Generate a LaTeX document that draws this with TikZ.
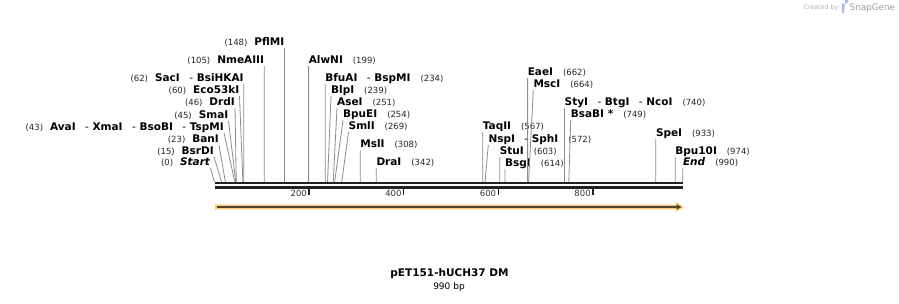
\documentclass[tikz,border=0pt]{standalone}
\usepackage{fontspec}
\setmainfont{DejaVu Sans}
\usetikzlibrary{arrows.meta}
\newcommand{\sitenum}[1]{{\fontsize{8.5}{9.5}\selectfont\mdseries\color{black!85}(#1)}}
\newcommand{\alsocut}{\hspace{9.5pt}{\mdseries -} }
\definecolor{featfill}{RGB}{250,202,110}
\definecolor{featline}{RGB}{80,68,52}

\begin{document}
\begin{tikzpicture}[x=1pt, y=-1pt,
                    my leader/.style={draw=black!45, line width=0.8pt},
                    my label/.style={inner sep=0pt, text height=7.5pt, text depth=2.5pt,
                      font=\fontsize{10.5}{12}\selectfont\bfseries},
                    my strand/.style={draw=black!87, line width=2.7pt},
                    my tick/.style={draw=black!87, line width=1.5pt},
                    my ticklabel/.style={anchor=east, inner sep=0pt,
                      font=\fontsize{8.5}{10}\selectfont, text=black!80}]

\path[use as bounding box, fill=white] (0,0) rectangle (899,303);

% the two strands and the ruler
\draw[my strand] (214.5,183) -- (683.3,183);
\draw[my strand] (214.5,187.3) -- (683.3,187.3);
\foreach \t in {200,400,600,800} {
  \coordinate (T\t) at (214.5+\t*0.473,187.3);
  \draw[my tick] (T\t) -- ++(0,7.5);
  \node[my ticklabel] (N\t) at (212.5+\t*0.473,193.5) {\t};
}

% sites labelled to the right
\foreach \bp/\tx/\c/\names in {
    199/308.6/60/AlwNI,
    234/325.2/78/{BfuAI\alsocut BspMI},
    239/331/90/BlpI,
    251/337/102/AseI,
    254/343/114/BpuEI,
    269/348.5/126/SmlI,
    308/360.2/144/MslI,
    342/376.3/162/DraI,
    567/482.7/126/TaqII,
    572/488.3/139/{NspI\alsocut SphI},
    603/499.7/151/StuI,
    614/504.9/163/BsgI,
    662/527.6/72/EaeI,
    664/533.3/84/MscI,
    740/564.5/102/{StyI\alsocut BtgI\alsocut NcoI},
    749/570.7/114/{BsaBI *},
    933/655.8/133/SpeI,
    974/675.2/151/Bpu10I,
    990/682.8/162/\textit{End}} {
  \coordinate (S\bp) at (214.5+\bp*0.473,182);
  \node[my label, anchor=south west] (R\bp) at (\tx,\c+6)
    {\names\hspace{10pt}\sitenum{\bp}};
  \draw[my leader] (R\bp.south west) -- (S\bp);
}

% sites labelled to the left
\foreach \bp/\tx/\c/\names in {
    0/210.5/162/\textit{Start},
    15/214/151/BsrDI,
    23/219/139/BanI,
    43/224/127/{AvaI\alsocut XmaI\alsocut BsoBI\alsocut TspMI},
    45/228.5/115/SmaI,
    46/235/102/DrdI,
    60/239.5/90/Eco53kI,
    62/243.8/78/{SacI\alsocut BsiHKAI},
    105/264.2/60/NmeAIII,
    148/284.5/42/PflMI} {
  \coordinate (S\bp) at (214.5+\bp*0.473,182);
  \node[my label, anchor=south east] (L\bp) at (\tx,\c+6)
    {\sitenum{\bp}\hspace{7pt}\names\hspace{5pt}};
  \draw[my leader] (L\bp.south east) -- (S\bp);
}

% the feature arrow
\fill[featfill] (215,204.6) -- (676,204.6) -- (676,201.8) -- (683.8,207)
  -- (676,212.2) -- (676,209.4) -- (215,209.4) -- cycle;
\draw[featline, line width=1.6pt, -{Triangle[length=5pt,width=5pt]}]
  (217,207) -- (681.5,207);

% name of the sequence
\node[font=\fontsize{10.5}{12}\selectfont\bfseries] (title) at (449.5,274)
  {pET151-hUCH37 DM};
\node[font=\fontsize{9}{11}\selectfont] (length) at (449,287.5) {990 bp};

% maker's mark
\node[anchor=east, inner sep=0pt, text=black!30, font=\fontsize{6.3}{7}\selectfont]
  (made) at (838.5,8) {Created by};
\fill[cyan!45!blue!35] (842,13) -- (842,3.5) -- (845.5,3.5)
  arc[start angle=90, end angle=-90, radius=2.8] -- (844.2,9.1) -- (844.2,13) -- cycle;
\node[anchor=west, inner sep=0pt, text=black!38, font=\fontsize{8.8}{10}\selectfont]
  (brand) at (849.5,8) {SnapGene};
\end{tikzpicture}
\end{document}
